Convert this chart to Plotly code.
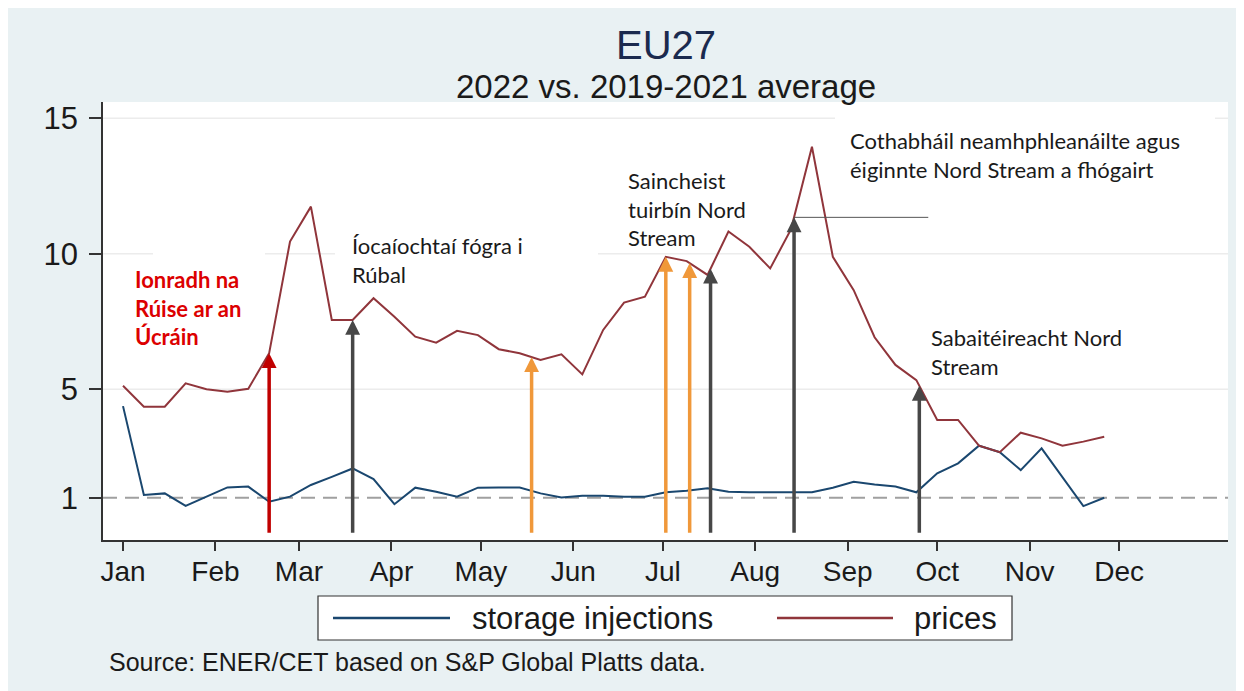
import numpy as np
import pandas as pd
import plotly.graph_objects as go

# weekly observations, 2022 relative to the 2019-2021 average
weeks = pd.date_range("2022-01-01", periods=48, freq="7D")
storage_injections = [4.38, 1.10, 1.16, 0.70, 1.04, 1.38, 1.41, 0.85, 1.04, 1.47, 1.77, 2.08,
                      1.69, 0.76, 1.37, 1.22, 1.04, 1.37, 1.38, 1.38, 1.16, 1.01, 1.07, 1.07,
                      1.04, 1.04, 1.20, 1.26, 1.35, 1.22, 1.20, 1.20, 1.20, 1.20, 1.37, 1.59,
                      1.49, 1.41, 1.20, 1.90, 2.27, 2.92, 2.68, 2.02, 2.82, 1.77, 0.69, 1.00]
prices = [5.13, 4.36, 4.36, 5.22, 5.00, 4.91, 5.02, 6.33, 10.45, 11.74, 7.56, 7.56,
          8.36, 7.68, 6.94, 6.72, 7.16, 7.00, 6.48, 6.33, 6.08, 6.29, 5.55, 7.19,
          8.20, 8.42, 9.89, 9.73, 9.22, 10.82, 10.26, 9.46, 10.91, 13.95, 9.89, 8.66,
          6.92, 5.90, 5.34, 3.87, 3.87, 2.92, 2.68, 3.40, 3.19, 2.92, 3.07, 3.25]

months = ["Jan", "Feb", "Mar", "Apr", "May", "Jun", "Jul", "Aug", "Sep", "Oct", "Nov", "Dec"]
month_starts = pd.date_range("2022-01-01", periods=12, freq="MS")
y_ticks = [1, 5, 10, 15]

RED = "#c00000"
GREY = "#474747"
ORANGE = "#f0983a"
event_dates = ["2022-02-19", "2022-03-19", "2022-05-18", "2022-07-02",
               "2022-07-10", "2022-07-17", "2022-08-14", "2022-09-25"]
event_colors = [RED, GREY, ORANGE, ORANGE, ORANGE, GREY, GREY, GREY]

labels = [
    ("Ionradh na<br>Rúise ar an<br>Úcráin", 133, 264, "#dc0000", True),
    ("Íocaíochtaí fógra i<br>Rúbal", 350, 230, "#1a1a1a", False),
    ("Saincheist<br>tuirbín Nord<br>Stream", 626, 165, "#1a1a1a", False),
    ("Cothabháil neamhphleanáilte agus<br>éiginnte Nord Stream a fhógairt", 848, 125, "#1a1a1a", False),
    ("Sabaitéireacht Nord<br>Stream", 929, 322, "#1a1a1a", False),
]

BG = "#e9f1f3"
OFF = 8  # page margin of the browser around the figure
W, H = 1244, 683
L, R, T, B = 103 - OFF, 1228 - OFF, 102 - OFF, 540 - OFF


# positions below are given in screen pixels of the page
def px_x(px):
    return (px - OFF - L) / (R - L)


def px_y(py):
    return (B - (py - OFF)) / (B - T)


fig = go.Figure()

# gridlines, interrupted where the text boxes of the original sit
grid_spans = {5: [(103, 1228)],
              10: [(103, 153), (265, 335), (598, 1228)],
              15: [(103, 835), (1215, 1228)]}
for val, spans in grid_spans.items():
    for x0, x1 in spans:
        fig.add_shape(type="line", xref="x domain", yref="y", x0=px_x(x0), x1=px_x(x1),
                      y0=val, y1=val, line=dict(color="#ececec", width=1.5), layer="below")

fig.add_shape(type="line", xref="x domain", yref="y", x0=0, x1=1, y0=1, y1=1,
              line=dict(color="#a0a0a0", width=2, dash="14px,8px"), layer="below")

fig.add_trace(go.Scatter(x=weeks, y=storage_injections, mode="lines", name="storage injections",
                         line=dict(color="#1a476f", width=2)))
fig.add_trace(go.Scatter(x=weeks, y=prices, mode="lines", name="prices",
                         line=dict(color="#90353b", width=2)))

# event arrows, tip on the price line
wk_num = weeks.astype("int64").to_numpy()
for d, c in zip(event_dates, event_colors):
    tip = float(np.interp(pd.Timestamp(d).value, wk_num, prices))
    fig.add_annotation(x=d, y=tip, ax=d, ay=-0.35, xref="x", yref="y", axref="x", ayref="y",
                       text="", showarrow=True, arrowhead=2, arrowsize=0.85, arrowwidth=3.5,
                       arrowcolor=c, standoff=0)
aug_tip = float(np.interp(pd.Timestamp(event_dates[6]).value, wk_num, prices))
fig.add_shape(type="line", xref="x", yref="y", x0=event_dates[6], x1="2022-09-28",
              y0=aug_tip, y1=aug_tip, line=dict(color="#555555", width=1))

for text, x, y, col, bold in labels:
    fig.add_annotation(text=f"<b>{text}</b>" if bold else text, xref="paper", yref="paper",
                       x=px_x(x), y=px_y(y), xanchor="left", yanchor="top", align="left",
                       showarrow=False, font=dict(family="Lato", size=22, color=col))

# titles and source
fig.add_annotation(text="EU27", xref="paper", yref="paper", x=0.5, y=px_y(45), yanchor="middle",
                   showarrow=False, font=dict(family="Liberation Sans", size=40, color="#1b2a4e"))
fig.add_annotation(text="2022 vs. 2019-2021 average", xref="paper", yref="paper", x=0.5,
                   y=px_y(86), yanchor="middle", showarrow=False,
                   font=dict(family="Liberation Sans", size=33, color="#1a1a1a"))
fig.add_annotation(text="Source: ENER/CET based on S&P Global Platts data.", xref="paper",
                   yref="paper", x=px_x(107), y=px_y(662), xanchor="left", yanchor="middle",
                   showarrow=False, font=dict(family="Liberation Sans", size=25, color="#1a1a1a"))

# legend drawn by hand to get the long line samples
fig.add_shape(type="rect", xref="paper", yref="paper", x0=px_x(318), x1=px_x(1012),
              y0=px_y(640), y1=px_y(596), fillcolor="white", line=dict(color="#333333", width=1.2))
for (x0, x1, tx, name, col) in [(333, 450, 470, "storage injections", "#1a476f"),
                                (777, 893, 912, "prices", "#90353b")]:
    fig.add_shape(type="line", xref="paper", yref="paper", x0=px_x(x0), x1=px_x(x1),
                  y0=px_y(618), y1=px_y(618), line=dict(color=col, width=2.5))
    fig.add_annotation(text=name, xref="paper", yref="paper", x=px_x(tx), y=px_y(618),
                       xanchor="left", yanchor="middle", showarrow=False,
                       font=dict(family="Liberation Sans", size=31, color="#1a1a1a"))

fig.update_xaxes(type="date", range=["2021-12-25 07:00", "2023-01-06 12:00"],
                 tickvals=month_starts, ticktext=months, ticks="outside", ticklen=9,
                 tickwidth=1.5, tickcolor="#333333", showline=True, linecolor="#333333",
                 linewidth=1.5, showgrid=False, zeroline=False, ticklabelstandoff=-3,
                 tickfont=dict(family="Liberation Sans", size=28, color="#1a1a1a"))
fig.update_yaxes(range=[-0.56, 15.6], tickvals=y_ticks, ticks="outside", ticklen=12,
                 tickwidth=1.5, tickcolor="#333333", showline=True, linecolor="#333333",
                 linewidth=1.5, showgrid=False, zeroline=False, ticklabelstandoff=5,
                 tickfont=dict(family="Liberation Sans", size=31, color="#1a1a1a"))

fig.update_layout(width=W, height=H, autosize=False, showlegend=False,
                  margin=dict(l=L, r=W - R, t=T, b=H - B),
                  paper_bgcolor=BG, plot_bgcolor="white")

fig.write_html("out.html")
